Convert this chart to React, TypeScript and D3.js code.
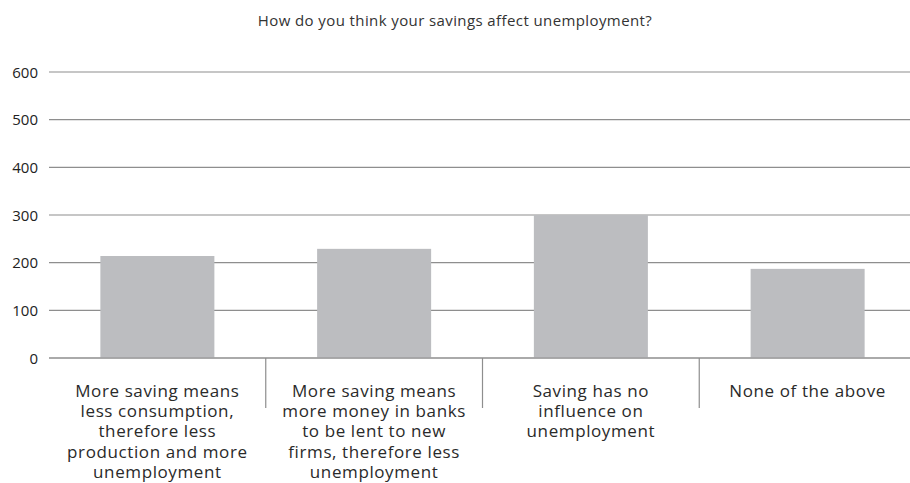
import React from "react";
import * as d3 from "d3";

const title = "How do you think your savings affect unemployment?";
const categories = ["c1", "c2", "c3", "c4"];
const categoryLabels: string[][] = [
  ["More saving means", "less consumption,", "therefore less", "production and more", "unemployment"],
  ["More saving means", "more money in banks", "to be lent to new", "firms, therefore less", "unemployment"],
  ["Saving has no", "influence on", "unemployment"],
  ["None of the above"],
];
const values = [214, 229, 300, 187];
const yTicks = [0, 100, 200, 300, 400, 500, 600];

const W = 910;
const H = 483;
const FONT = "'Open Sans', sans-serif";

export default function App() {
  const x = d3.scaleBand<string>().domain(categories).range([49, 916]).paddingInner(0.474).paddingOuter(0.237);
  const y = d3.scaleLinear().domain([0, 600]).range([358, 72]);
  const step = x.step();
  const x0 = 49;
  return (
    <svg width={W} height={H} style={{ position: "absolute", left: 0, top: 0, background: "#fff" }}>
      <text x={455} y={25.5} textAnchor="middle" fontFamily={FONT} fontSize={15} letterSpacing={0.4} fill="#333">{title}</text>
      {yTicks.map((t) => (
        <g key={t}>
          <line x1={x0} x2={W} y1={y(t)} y2={y(t)} stroke="#8e8e8e" strokeWidth={1.2} />
          <text x={38} y={y(t) + 5.5} textAnchor="end" fontFamily={FONT} fontSize={15} fill="#222">{t}</text>
        </g>
      ))}
      {categories.map((c, i) => (
        <rect key={c} x={x(c)} y={y(values[i])} width={x.bandwidth()} height={y(0) - y(values[i])} fill="#bcbdc0" />
      ))}
      <line x1={x0} x2={W} y1={y(0)} y2={y(0)} stroke="#8e8e8e" strokeWidth={1.2} />
      {[1, 2, 3].map((i) => (
        <line key={i} x1={x0 + i * step} x2={x0 + i * step} y1={y(0)} y2={408} stroke="#8e8e8e" strokeWidth={1.2} />
      ))}
      {categories.map((c, i) => (
        <text key={c} textAnchor="middle" fontFamily={FONT} fontSize={17} letterSpacing={0.6} fill="#2a2a2a">
          {categoryLabels[i].map((l, j) => (
            <tspan key={j} x={(x(c) as number) + x.bandwidth() / 2} y={397 + j * 20.2}>{l}</tspan>
          ))}
        </text>
      ))}
    </svg>
  );
}
